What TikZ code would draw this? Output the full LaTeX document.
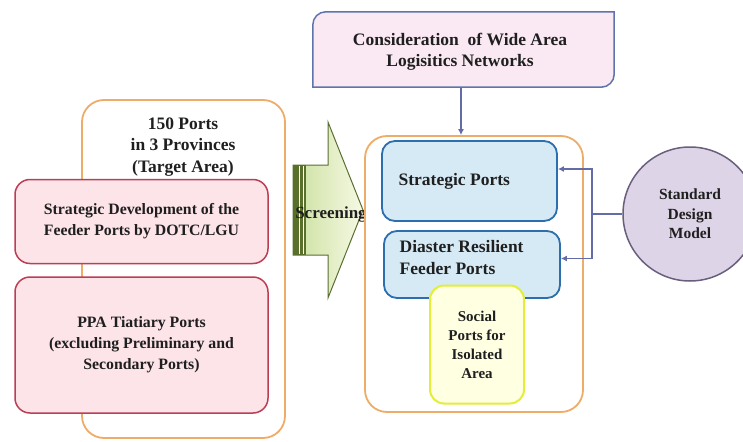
\documentclass[tikz,border=0pt]{standalone}
\usepackage{fontspec}
\setmainfont{Liberation Serif}
\usetikzlibrary{arrows.meta}
\definecolor{orangeb}{RGB}{238,172,105}
\definecolor{pinkf}{RGB}{252,228,233}
\definecolor{pinkb}{RGB}{188,62,84}
\definecolor{bluef}{RGB}{214,234,246}
\definecolor{blueb}{RGB}{45,110,175}
\definecolor{yelf}{RGB}{255,255,226}
\definecolor{yelb}{RGB}{226,238,55}
\definecolor{circf}{RGB}{222,212,232}
\definecolor{circb}{RGB}{105,95,125}
\definecolor{consf}{RGB}{250,233,243}
\definecolor{consb}{RGB}{95,115,172}
\definecolor{connc}{RGB}{100,108,168}
\definecolor{arrb}{RGB}{90,110,50}
\definecolor{arrdark}{RGB}{88,112,42}
\definecolor{arrlight}{RGB}{204,224,160}
\definecolor{arrpale}{RGB}{246,249,228}
\begin{document}
\begin{tikzpicture}[x=1pt,y=1pt,
  every node/.style={font=\bfseries\fontsize{17.5}{21.5}\selectfont, text=black!88},
  container/.style={draw=orangeb, line width=1.8pt, fill=white, rounded corners=22pt, inner sep=0pt},
  pinkbox/.style={draw=pinkb, line width=1.5pt, fill=pinkf, rounded corners=15pt, inner sep=0pt, align=center},
  bluebox/.style={draw=blueb, line width=1.8pt, fill=bluef, rounded corners=13pt, inner sep=0pt},
  yelbox/.style={draw=yelb, line width=2pt, fill=yelf, rounded corners=14pt, inner sep=0pt, align=center},
  conn/.style={draw=connc, line width=1.3pt},
  arr/.style={conn, -{Latex[length=6pt,width=6pt]}}
]
\useasboundingbox (0,0) rectangle (743,-441);

% left container
\node[container, minimum width=203pt, minimum height=338pt] (lc) at (183.5,-269) {};
\node[align=center] (target) at (183,-147) {150 Ports\\in 3 Provinces\\(Target Area)};
\node[pinkbox, minimum width=253pt, minimum height=84pt,
      font=\bfseries\fontsize{15.8}{21}\selectfont] (p1) at (141.5,-221.5)
      {Strategic Development of the\\Feeder Ports by DOTC/LGU};
\node[pinkbox, minimum width=253pt, minimum height=136pt,
      font=\bfseries\fontsize{15.8}{21}\selectfont] (p2) at (141.5,-345)
      {PPA Tiatiary Ports\\(excluding Preliminary and\\Secondary Ports)};

% screening arrow
\path[left color=arrlight, right color=arrpale]
  (293,-165) -- (328,-165) -- (328,-122) -- (363,-210) -- (328,-298) -- (328,-255) -- (293,-255) -- cycle;
\fill[arrdark] (293,-165) rectangle (306,-255);
\draw[white, line width=0.8pt] (299,-166) -- (299,-254);
\draw[white, line width=0.8pt] (303,-166) -- (303,-254);
\draw[arrb, line width=1pt, line join=miter]
  (293,-165) -- (328,-165) -- (328,-122) -- (363,-210) -- (328,-298) -- (328,-255) -- (293,-255) -- cycle;
\node[font=\bfseries\fontsize{17}{21}\selectfont] (scr) at (331,-214) {Screening};

% consideration box (rounded NW and SE corners)
\node[minimum width=301pt, minimum height=75pt, inner sep=0pt, align=center] (cons) at (463.5,-49.5) {};
\filldraw[fill=consf, draw=consb, line width=1.5pt]
  ([xshift=13pt]cons.north west) -- (cons.north east) -- ([yshift=13pt]cons.south east)
  arc[start angle=0, end angle=-90, radius=13pt] -- (cons.south west)
  -- ([yshift=-13pt]cons.north west) arc[start angle=180, end angle=90, radius=13pt] -- cycle;
\node[align=center] (constext) at (460,-52) {Consideration\ \ of Wide Area\\Logisitics Networks};

% right container
\node[container, minimum width=218pt, minimum height=276pt] (rc) at (474,-274) {};
\node[bluebox, minimum width=175pt, minimum height=80pt] (sp) at (469.5,-181) {};
\node[anchor=west] (sptext) at ([xshift=14pt]sp.west) {Strategic Ports};
\node[bluebox, minimum width=176pt, minimum height=67pt] (dr) at (472,-264.5) {};
\node[anchor=west, align=left] (drtext) at ([xshift=13pt,yshift=7pt]dr.west) {Diaster Resilient\\Feeder Ports};
\node[yelbox, minimum width=94pt, minimum height=118pt,
      font=\bfseries\fontsize{15}{19}\selectfont] (soc) at (477,-344.5)
      {Social\\Ports for\\Isolated\\Area};

% standard design model
\node[circle, draw=circb, line width=1.5pt, fill=circf, minimum size=134pt, inner sep=0pt, align=center,
      font=\bfseries\fontsize{15.5}{19.5}\selectfont] (sdm) at (690,-214) {Standard\\Design\\Model};

% connectors
\draw[arr] ([xshift=-2.5pt]cons.south) -- ([xshift=-2.5pt]cons.south |- rc.north);
\coordinate (j) at (592,-214);
\draw[conn] (sdm.west) -- (j);
\draw[arr] (j) |- ([yshift=12pt]sp.east);
\draw[arr] (j) |- ([yshift=6pt]dr.east);
\end{tikzpicture}
\end{document}
